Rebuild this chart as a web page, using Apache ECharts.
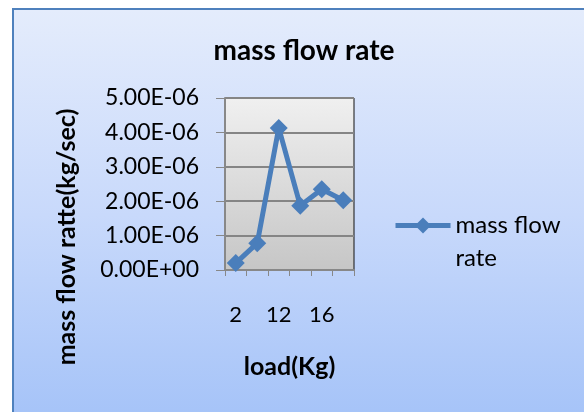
<!DOCTYPE html>
<html>
<head>
<meta charset="utf-8">
<script src="https://cdn.jsdelivr.net/npm/echarts@6/dist/echarts.min.js"></script>
<style>
  html, body { margin: 0; padding: 0; background: #fff; }
  #frame { position: absolute; left: 12px; top: 8px; width: 580px; height: 410px;
    border-left: 2px solid #4f81bd; border-top: 2px solid #4f81bd;
    background: linear-gradient(to bottom, #e4ecfc 0%, #c8d9fb 50%, #a5c3f8 100%); }
  #chart { position: absolute; left: 0; top: 0; width: 584px; height: 412px; }
</style>
</head>
<body>
<div id="frame"></div>
<div id="chart"></div>
<script>
  const loads = ["2", "8", "12", "14", "16", "18"];
  const massFlow = [0.2e-6, 0.78e-6, 4.13e-6, 1.87e-6, 2.35e-6, 2.03e-6];
  const seriesName = "mass flow rate";

  const font = "Lato, 'Open Sans', sans-serif";
  const chart = echarts.init(document.getElementById("chart"));
  chart.setOption({
    backgroundColor: "transparent",
    animation: false,
    title: {
      text: "mass flow rate",
      left: 299, top: 32, textAlign: "center",
      textStyle: { fontFamily: font, fontSize: 28, fontWeight: "bold", color: "#000" }
    },
    legend: {
      left: 393, top: 176,
      padding: 0,
      itemWidth: 55, itemHeight: 20,
      itemGap: 4,
      // blank first line keeps the icon level with "mass flow"
      formatter: () => " \nmass flow\nrate",
      lineStyle: { width: 5 },
      textStyle: { fontFamily: font, fontSize: 24, color: "#000", lineHeight: 33 },
      data: [seriesName]
    },
    grid: { left: 225, right: 230, top: 98, bottom: 142, show: true,
      backgroundColor: new echarts.graphic.LinearGradient(0, 0, 0, 1, [
        { offset: 0, color: "#f0f0f0" }, { offset: 1, color: "#c6c6c6" }]),
      borderColor: "#111", borderWidth: 1 },
    xAxis: {
      type: "category",
      data: loads,
      boundaryGap: true,
      name: "load(Kg)",
      nameLocation: "middle",
      nameGap: 84,
      nameTextStyle: { fontFamily: font, fontSize: 25, fontWeight: "bold", color: "#000" },
      axisLine: { lineStyle: { color: "#888", width: 2 } },
      axisTick: { show: true, length: 6, interval: 0, lineStyle: { color: "#888", width: 1 } },
      axisLabel: { interval: 1, margin: 34, fontFamily: font, fontSize: 22, color: "#000" }
    },
    yAxis: {
      type: "value",
      min: 0, max: 5e-6, interval: 1e-6,
      name: "mass flow ratte(kg/sec)",
      nameLocation: "middle",
      nameGap: 146,
      nameTextStyle: { fontFamily: font, fontSize: 25, fontWeight: "bold", color: "#000", padding: [0, 106, 0, 0] },
      axisLine: { show: true, lineStyle: { color: "#888", width: 2 } },
      axisTick: { show: true, length: 9, lineStyle: { color: "#888", width: 1 } },
      splitLine: { lineStyle: { color: "#858585", width: 2 } },
      axisLabel: {
        margin: 26, fontFamily: font, fontSize: 23, color: "#000",
        formatter: v => {
          if (v === 0) return "0.00E+00";
          const e = Math.floor(Math.log10(v) + 1e-9);
          const m = v / Math.pow(10, e);
          return m.toFixed(2) + "E" + (e < 0 ? "-" : "+") + String(Math.abs(e)).padStart(2, "0");
        }
      }
    },
    series: [{
      name: seriesName,
      type: "line",
      data: massFlow,
      symbol: "diamond",
      symbolSize: 18,
      showAllSymbol: true,
      lineStyle: { color: "#4a7ebb", width: 5 },
      itemStyle: { color: "#4a7ebb" }
    }]
  });
</script>
</body>
</html>
